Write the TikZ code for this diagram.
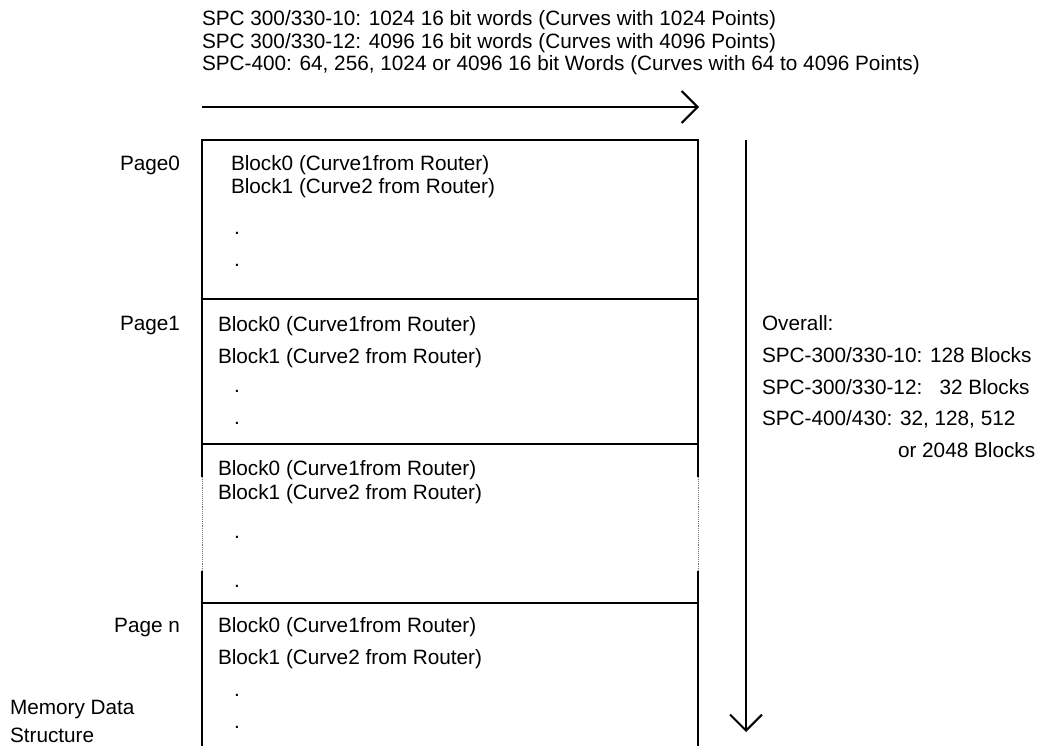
\documentclass[tikz,border=0pt]{standalone}
\usepackage{fontspec}
\setmainfont{Liberation Sans}
\usetikzlibrary{arrows.meta}
\begin{document}
\begin{tikzpicture}[x=1pt,y=-1pt,
  lbl/.style={anchor=base west,inner sep=0pt,outer sep=0pt,font=\fontsize{20.75}{24}\selectfont},
  lblr/.style={lbl,anchor=base east},
  frameline/.style={line width=2.2pt},
  dotline/.style={line width=0.9pt,densely dotted,black!55},
  bigarrow/.style={line width=2pt,-{Straight Barb[length=16pt,width=32pt,line width=2pt]}}
]
\useasboundingbox (0,0) rectangle (1046,746);
% top texts
\node[lbl] (t1) at (202,25.5) {SPC 300/330-10: 1024 16 bit words (Curves with 1024 Points)};
\node[lbl] (t2) at (202,48.5) {SPC 300/330-12: 4096 16 bit words (Curves with 4096 Points)};
\node[lbl] (t3) at (202,70.5) {SPC-400: 64, 256, 1024 or 4096 16 bit Words (Curves with 64 to 4096 Points)};
% arrows
\coordinate (ha) at (202,107);
\coordinate (hb) at (699,107);
\draw[bigarrow] (ha) -- (hb);
\coordinate (va) at (746,140);
\coordinate (vb) at (746,732);
\draw[bigarrow] (va) -- (vb);
% frame
\coordinate (L0) at (202,140); \coordinate (R0) at (698,140);
\coordinate (L1) at (202,299); \coordinate (R1) at (698,299);
\coordinate (L2) at (202,444); \coordinate (R2) at (698,444);
\coordinate (L3) at (202,603); \coordinate (R3) at (698,603);
\coordinate (Lda) at (202,477); \coordinate (Rda) at (698,477);
\coordinate (Ldb) at (202,571); \coordinate (Rdb) at (698,571);
\coordinate (Lend) at (202,750); \coordinate (Rend) at (698,750);
\draw[frameline] (Lda) -- (L0) -- (R0) -- (Rda);
\draw[frameline] (Ldb) -- (Lend);
\draw[frameline] (Rdb) -- (Rend);
\draw[dotline] (Lda) -- (Ldb);
\draw[dotline] (Rda) -- (Rdb);
\draw[frameline] (L1) -- (R1);
\draw[frameline] (L2) -- (R2);
\draw[frameline] (L3) -- (R3);
% page labels
\node[lblr] (p0) at (180,170.5) {Page0};
\node[lblr] (p1) at (180,330.5) {Page1};
\node[lblr] (pn) at (180,632.5) {Page n};
\node[lbl] (m1) at (10,714.5) {Memory Data};
\node[lbl] (m2) at (10,742) {Structure};
% page 0
\node[lbl] (a0) at (231,170.5) {Block0 (Curve1from Router)};
\node[lbl] (a1) at (231,193.5) {Block1 (Curve2 from Router)};
\node[lbl] (a2) at (234,234.5) {.};
\node[lbl] (a3) at (234,266.5) {.};
% page 1
\node[lbl] (b0) at (218,331.5) {Block0 (Curve1from Router)};
\node[lbl] (b1) at (218,363.5) {Block1 (Curve2 from Router)};
\node[lbl] (b2) at (234,392.5) {.};
\node[lbl] (b3) at (234,424.5) {.};
% third
\node[lbl] (c0) at (218,475.5) {Block0 (Curve1from Router)};
\node[lbl] (c1) at (218,499.5) {Block1 (Curve2 from Router)};
\node[lbl] (c2) at (234,538.5) {.};
\node[lbl] (c3) at (234,587.5) {.};
% page n
\node[lbl] (d0) at (218,632.5) {Block0 (Curve1from Router)};
\node[lbl] (d1) at (218,664.5) {Block1 (Curve2 from Router)};
\node[lbl] (d2) at (234,696.5) {.};
\node[lbl] (d3) at (234,728.5) {.};
% overall
\node[lbl] (o0) at (762,330.5) {Overall:};
\node[lbl] (o1) at (762,362.5) {SPC-300/330-10: 128 Blocks};
\node[lbl] (o2) at (762,394.5) {SPC-300/330-12:\ \ \ 32 Blocks};
\node[lbl] (o3) at (762,425.5) {SPC-400/430: 32, 128, 512};
\node[lbl] (o4) at (898,457.5) {or 2048 Blocks};
\end{tikzpicture}
\end{document}
